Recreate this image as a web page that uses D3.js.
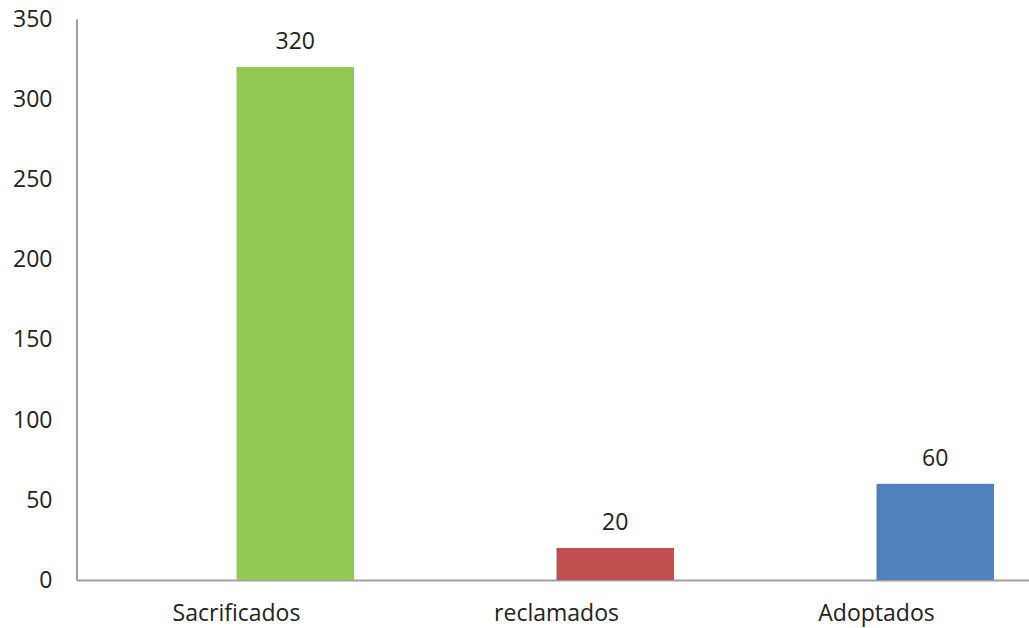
<!DOCTYPE html>
<html><head><meta charset="utf-8">
<script src="https://cdn.jsdelivr.net/npm/d3@7"></script>
<style>body{margin:0;background:#fff}svg{display:block}</style>
</head><body>
<svg id="c" width="1029" height="628"></svg>
<script>
const categories = ["Sacrificados", "reclamados", "Adoptados"];
const values = [320, 20, 60];
const colors = ["#92C954", "#C0504D", "#4F81BD"];
const yTicks = [0, 50, 100, 150, 200, 250, 300, 350];

const svg = d3.select("#c");
const font = "'Open Sans', sans-serif";
const fs = 23;
const mLeft = 76.5, mRight = 1036.5, mTop = 19, mBottom = 580;

const y = d3.scaleLinear().domain([0, 350]).range([mBottom, mTop]);
const x = d3.scaleBand().domain(categories).range([mLeft, mRight])
  .paddingInner(85/320).paddingOuter(85/640);
const x1 = d3.scaleBand().domain([0, 1]).range([0, x.bandwidth()]);

// axes
const yAxis = svg.append("g").attr("transform", `translate(${mLeft},0)`)
  .call(d3.axisLeft(y).tickValues(yTicks).tickSize(0).tickPadding(24));
yAxis.select(".domain").attr("stroke", "#a0a0a0").attr("stroke-width", 2);
yAxis.selectAll("text").attr("font-family", font).attr("font-size", fs).attr("fill", "#222");

const xAxis = svg.append("g").attr("transform", `translate(0,${mBottom})`)
  .call(d3.axisBottom(x).tickSize(0).tickPadding(25));
xAxis.select(".domain").attr("stroke", "#a0a0a0").attr("stroke-width", 2);
xAxis.selectAll("text").attr("font-family", font).attr("font-size", fs).attr("fill", "#222");

// bars
const data = categories.map((c, i) => ({c, v: values[i], col: colors[i]}));
svg.append("g").selectAll("rect").data(data).join("rect")
  .attr("x", d => x(d.c) + x1(1))
  .attr("width", x1.bandwidth())
  .attr("y", d => y(d.v))
  .attr("height", d => y(0) - y(d.v))
  .attr("fill", d => d.col);

svg.append("g").selectAll("text").data(data).join("text")
  .attr("x", d => x(d.c) + x1(1) + x1.bandwidth() / 2)
  .attr("y", d => y(d.v) - 18)
  .attr("text-anchor", "middle")
  .attr("font-family", font).attr("font-size", fs).attr("fill", "#222")
  .text(d => d.v);
</script>
</body></html>
